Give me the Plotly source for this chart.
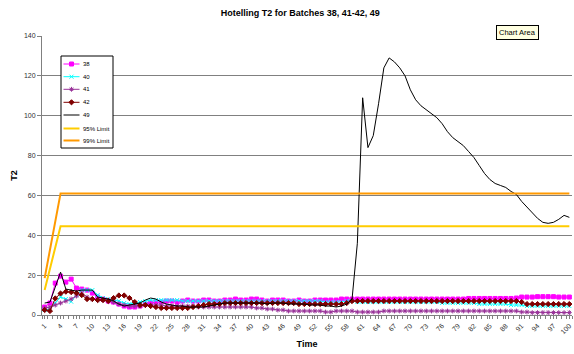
import plotly.graph_objects as go

time = list(range(1, 101))
tick_labels = [str(v) for v in range(1, 101, 3)]

b38 = [4, 6, 16, 19.5, 16.5, 18, 13.5, 13, 12.5, 11,
       9, 8, 7, 6.5, 5.5, 4.5, 4, 4, 4.5, 5.5,
       6, 6.5, 6.5, 7, 7, 6.5, 7, 7.5, 7, 7,
       7.5, 7.5, 7, 7, 7.5, 7.5, 8, 7.5, 7.5, 8,
       8, 7.5, 7, 7.5, 7.5, 7.5, 7, 7, 7.5, 7,
       7, 7.5, 7.5, 7.5, 7.5, 7.5, 8, 8, 8, 8,
       8, 8, 8, 8, 8, 8, 8, 8, 8, 8,
       8, 8, 8, 8, 8, 8, 8, 8, 8, 8,
       8.3, 8.3, 8.3, 8.3, 8.3, 8.3, 8.3, 8.3, 8.3, 8.5,
       9, 9, 9, 9.2, 9.2, 9.2, 9.2, 9, 9, 9]

b40 = [2.5, 3, 6, 9, 8, 6.7, 10, 12.5, 12.5, 12.5,
       10, 8.5, 8, 7.5, 7, 6, 5.5, 6, 6.5, 7,
       7.5, 7.5, 7.5, 7.5, 7.5, 7.5, 7, 7, 7, 7,
       7, 7, 7, 7, 7, 7, 7, 7, 7, 7,
       7, 7, 7, 7, 7, 7, 7, 7, 7, 7,
       7, 7, 7, 6.5, 6.5, 6.5, 6.5, 7, 7, 6.5,
       6.5, 6.5, 6.5, 6.5, 6.5, 6.5, 6.5, 6.5, 6.5, 6.5,
       6.5, 6.5, 6.5, 6.5, 6.5, 6, 6, 6, 6, 6,
       6, 6, 5.5, 5.5, 5.5, 5.5, 5.5, 5.5, 5, 5,
       5, 4.5, 4.5, 4.5, 4.5, 4.5, 4.5, 4.5, 4.5, 4.5]

b41 = [3.5, 4, 5, 6, 7, 8, 9.5, 11, 9, 8,
       7.5, 7.5, 7.5, 6.5, 5.5, 5, 4.5, 4.5, 4.5, 5,
       5, 5, 5, 4.5, 4.5, 4.5, 4.5, 4.5, 4.5, 4,
       4, 4, 4, 4, 4, 4, 4, 4, 4, 4,
       3.5, 3.5, 3, 3, 2.5, 2.5, 2, 2, 2, 2,
       2, 2, 2, 1.5, 1.5, 2, 2, 2, 2, 1.5,
       1.5, 1.5, 1.5, 1.5, 2, 2, 2, 2, 2, 2,
       2, 2, 2, 2, 2, 2, 2, 2, 2, 2,
       2, 2, 2, 2, 2, 2, 2, 2, 2, 2,
       1.5, 1.5, 1.2, 1.2, 1.2, 1.2, 1.2, 1.2, 1.2, 1.2]

b42 = [2.5, 2, 8.3, 10.8, 11.7, 11.5, 11, 10, 8, 8,
       7.5, 7.5, 7, 8.5, 9.8, 9.8, 8.5, 6.5, 5, 5,
       4.5, 4, 3.5, 3.5, 3.5, 3.5, 3.5, 3.5, 4, 4.5,
       5, 5.5, 5.5, 5.5, 6, 6, 6, 6, 6, 6,
       6, 6, 6, 6, 6, 6, 6, 6, 5.5, 5.5,
       5.5, 5.5, 5.5, 5.5, 5.5, 5.5, 5.5, 6, 7, 7,
       7, 7, 7, 7, 7, 7, 7, 7, 7, 7,
       7, 7, 7, 7, 7, 7, 7, 7, 7, 7,
       7, 7, 7, 7, 7, 7, 7, 7, 7, 7,
       6.5, 5.5, 5.5, 5.5, 5.5, 5.5, 5.5, 5.5, 5.5, 5.5]

b49 = [6, 6.5, 14, 21.5, 13, 12.5, 12, 12.5, 12.5, 12.5,
       9, 8.5, 8, 7, 5.5, 4.5, 5, 5.5, 6, 7.5,
       8.5, 8, 6.5, 5.5, 5, 4.5, 4.5, 4, 4, 4,
       4, 4.5, 5, 5.5, 6, 6, 6, 6, 6, 6,
       6, 6, 5.5, 6, 6, 6, 5.5, 5.5, 5.5, 5.5,
       5, 5, 5, 4.5, 4.5, 4, 4.5, 5.5, 8, 36,
       109, 84, 90, 106, 124, 129, 127, 124, 120, 113,
       108, 105, 103, 101, 99, 96, 92, 89, 87, 85,
       82, 79, 75, 71, 68, 66, 65, 64, 62, 60.5,
       57, 54, 51, 48.5, 46.5, 46, 46.5, 48, 50, 49]

lim95 = [12.5, 23, 34, 44.5] + [44.5] * 96
lim99 = [18.5, 33, 47, 61] + [61] * 96

series_names = ["38", "40", "41", "42", "49", "95% Limit", "99% Limit"]

FONT = "Liberation Sans, Arial, sans-serif"
W, H = 574, 354
ML, MR, MT, MB = 42, 2, 36, 39
PW, PH = W - ML - MR, H - MT - MB

styles = {
    "38": dict(color="#FF00FF", symbol="square", lw=1),
    "40": dict(color="#00FFFF", symbol="x-thin", lw=1),
    "41": dict(color="#993399", symbol="asterisk", lw=1),
    "42": dict(color="#800000", symbol="diamond", lw=1),
    "49": dict(color="#000000", symbol=None, lw=1),
    "95% Limit": dict(color="#FFCC00", symbol=None, lw=2),
    "99% Limit": dict(color="#FF9900", symbol=None, lw=2),
}
data = {"38": b38, "40": b40, "41": b41, "42": b42, "49": b49,
        "95% Limit": lim95, "99% Limit": lim99}

fig = go.Figure()

for name in series_names:
    st = styles[name]
    sym = st["symbol"]
    fig.add_trace(go.Scatter(
        x=time, y=data[name], name=name,
        mode="lines+markers" if sym else "lines",
        line=dict(color=st["color"], width=st["lw"]),
        marker=dict(symbol=sym, size=4, color=st["color"],
                    line=dict(color=st["color"], width=1)) if sym else None,
        showlegend=False,
    ))

# pixel -> main-axis data helpers (legend box placement only)
def px_x(px):
    return 0.5 + (px - ML) / PW * 100.0

def px_y(py):
    return (H - MB - py) / PH * 140.0

shapes = [dict(type="rect", xref="x", yref="y",
               x0=px_x(61), x1=px_x(113), y0=px_y(148), y1=px_y(56),
               fillcolor="white", line=dict(color="#000000", width=1),
               layer="between")]
annotations = []
leg_y = [64, 76.7, 89.3, 102.3, 115, 128.5, 140.5]
for name, yy in zip(series_names, leg_y):
    st = styles[name]
    fig.add_trace(go.Scatter(
        x=[63.5, 79.5], y=[yy, yy], xaxis="x2", yaxis="y2",
        mode="lines", line=dict(color=st["color"], width=st["lw"]),
        showlegend=False, hoverinfo="skip"))
    if st["symbol"]:
        fig.add_trace(go.Scatter(
            x=[71.5], y=[yy], xaxis="x2", yaxis="y2", mode="markers",
            marker=dict(symbol=st["symbol"], size=4, color=st["color"],
                        line=dict(color=st["color"], width=1)),
            showlegend=False, hoverinfo="skip"))
    annotations.append(dict(text=name, xref="x2", yref="y2", x=81, y=yy,
                            xanchor="left", yanchor="middle", showarrow=False,
                            font=dict(size=6, family=FONT, color="#000000")))

annotations.append(dict(text="Chart Area", xref="paper", yref="paper",
                        x=(517 - ML) / PW, y=(315 - 32.5) / PH,
                        xanchor="center", yanchor="middle", showarrow=False,
                        font=dict(size=7.5, family=FONT, color="#000000"),
                        bgcolor="#FFFFE1", bordercolor="#000000", borderwidth=1,
                        borderpad=2))

fig.update_layout(
    width=W, height=H,
    margin=dict(l=ML, r=MR, t=MT, b=MB),
    paper_bgcolor="white", plot_bgcolor="white",
    font=dict(family=FONT, size=7, color="#000000"),
    title=dict(text="<b>Hotelling T2 for Batches 38, 41-42, 49</b>",
               x=0.523, xanchor="center", y=0.963, yanchor="middle",
               yref="container", font=dict(size=9, family=FONT)),
    showlegend=False,
    xaxis=dict(range=[0.5, 100.5], tickmode="array",
               tickvals=list(range(1, 101, 3)), ticktext=tick_labels,
               tickangle=-45, ticks="outside", ticklen=3, tickcolor="#808080",
               ticklabeloverflow="allow",
               showgrid=False, zeroline=False, showline=True,
               linecolor="#808080", linewidth=1,
               tickfont=dict(size=7, color="#303030"),
               minor=dict(tickmode="linear", tick0=0.5, dtick=1,
                          ticks="outside", ticklen=3, tickcolor="#808080"),
               title=dict(text="<b>Time</b>", font=dict(size=9), standoff=6)),
    yaxis=dict(range=[0, 140], tickmode="linear", tick0=0, dtick=20,
               ticks="outside", ticklen=4, tickcolor="#808080",
               showgrid=True, gridcolor="#808080", gridwidth=1,
               zeroline=False, showline=True, linecolor="#808080", linewidth=1,
               tickfont=dict(size=7, color="#303030"),
               title=dict(text="<b>T2</b>", font=dict(size=9), standoff=4)),
    xaxis2=dict(overlaying="x", range=[ML, W - MR], visible=False,
                fixedrange=True),
    yaxis2=dict(overlaying="y", range=[H - MB, MT], visible=False,
                fixedrange=True),
    shapes=shapes,
    annotations=annotations,
)

fig.write_html("out.html")
